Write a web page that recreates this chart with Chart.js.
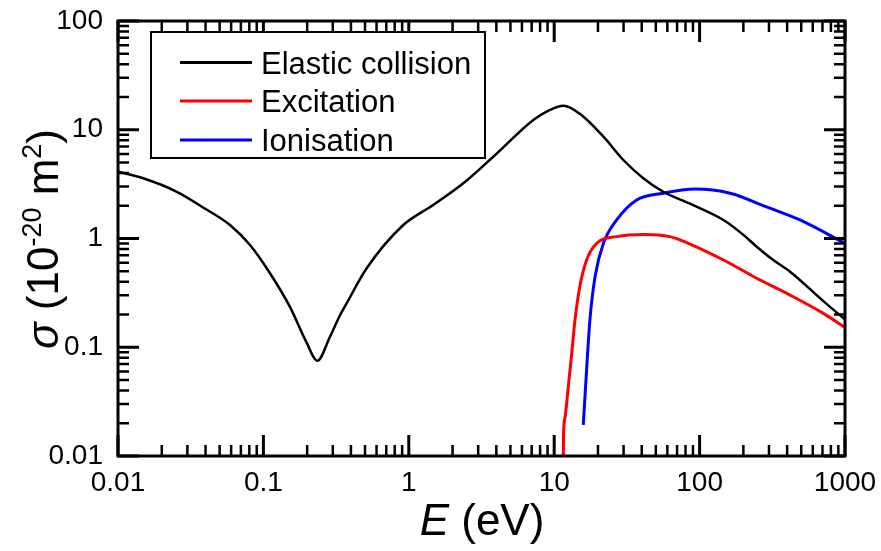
<!DOCTYPE html>
<html>
<head>
<meta charset="utf-8">
<script src="https://cdn.jsdelivr.net/npm/chart.js@4.4.1/dist/chart.umd.min.js"></script>
<style>
  body { margin: 0; background: #fff; }
  canvas { display: block; }
</style>
</head>
<body>
<canvas id="chart" width="881" height="551"></canvas>
<script>
// data (energy in eV, cross section in 1e-20 m^2)
const elasticE = [0.01, 0.0149, 0.0254, 0.0387, 0.0589, 0.0809, 0.111, 0.152, 0.199, 0.235, 0.287, 0.337, 0.374, 0.513, 0.916, 1.47, 2.37, 3.81, 7.18, 8.87, 11.6, 15.0, 21.8, 29.9, 41.0, 56.2, 85.8, 146, 200, 247, 321, 419, 700, 1000];
const elasticSigma = [4.11, 3.58, 2.69, 1.92, 1.33, 0.871, 0.479, 0.236, 0.109, 0.0752, 0.125, 0.198, 0.254, 0.532, 1.33, 2.03, 3.22, 5.65, 12.3, 14.7, 16.6, 14.0, 8.63, 5.27, 3.58, 2.69, 2.09, 1.48, 1.08, 0.841, 0.634, 0.495, 0.27, 0.18];

const excitE = [11.55, 11.6, 11.9, 12.5, 13.2, 13.9, 15.0, 16.7, 19.6, 26.9, 41.0, 62.5, 85.9, 146, 247, 419, 710, 1000];
const excitSigma = [0.01, 0.016, 0.023, 0.0434, 0.0879, 0.178, 0.360, 0.634, 0.903, 1.04, 1.09, 1.04, 0.889, 0.634, 0.431, 0.302, 0.205, 0.152];

const ionE = [15.85, 16.7, 17.6, 19.1, 21.8, 26.9, 36.9, 56.2, 93, 162, 289, 490, 1000];
const ionSigma = [0.0193, 0.0618, 0.178, 0.446, 0.903, 1.48, 2.26, 2.61, 2.85, 2.61, 1.95, 1.48, 0.9];

const seriesNames = ['Elastic collision', 'Excitation', 'Ionisation'];
const seriesColors = ['#000000', '#ff0000', '#0000ff'];

const xTicks = [0.01, 0.1, 1, 10, 100, 1000];
const xTickLabels = ['0.01', '0.1', '1', '10', '100', '1000'];
const yTicks = [0.01, 0.1, 1, 10, 100];
const yTickLabels = ['0.01', '0.1', '1', '10', '100'];

function pts(xs, ys) {
  return xs.map((x, i) => ({ x: x, y: ys[i] }));
}

const FONT = 'Arial, "Liberation Sans", sans-serif';

// frame, inward ticks, legend and axis titles
const decorPlugin = {
  id: 'decor',
  afterDatasetsDraw(chart) {
    const ctx = chart.ctx;
    const a = chart.chartArea;
    const xs = chart.scales.x, ys = chart.scales.y;
    ctx.save();
    ctx.strokeStyle = '#000';
    ctx.lineCap = 'butt';

    // minor ticks
    ctx.lineWidth = 2.5;
    ctx.beginPath();
    for (let d = -2; d < 3; d++) {
      for (let m = 2; m <= 9; m++) {
        const px = xs.getPixelForValue(m * Math.pow(10, d));
        ctx.moveTo(px, a.bottom); ctx.lineTo(px, a.bottom - 11);
        ctx.moveTo(px, a.top); ctx.lineTo(px, a.top + 11);
      }
    }
    for (let d = -2; d < 2; d++) {
      for (let m = 2; m <= 9; m++) {
        const py = ys.getPixelForValue(m * Math.pow(10, d));
        ctx.moveTo(a.left, py); ctx.lineTo(a.left + 11, py);
        ctx.moveTo(a.right, py); ctx.lineTo(a.right - 11, py);
      }
    }
    ctx.stroke();

    // major ticks
    ctx.lineWidth = 3;
    ctx.beginPath();
    xTicks.forEach(v => {
      const px = xs.getPixelForValue(v);
      ctx.moveTo(px, a.bottom); ctx.lineTo(px, a.bottom - 21);
      ctx.moveTo(px, a.top); ctx.lineTo(px, a.top + 21);
    });
    yTicks.forEach(v => {
      const py = ys.getPixelForValue(v);
      ctx.moveTo(a.left, py); ctx.lineTo(a.left + 21, py);
      ctx.moveTo(a.right, py); ctx.lineTo(a.right - 21, py);
    });
    ctx.stroke();

    // frame
    ctx.lineWidth = 3;
    ctx.strokeRect(a.left, a.top, a.right - a.left, a.bottom - a.top);

    // legend
    ctx.fillStyle = '#fff';
    ctx.fillRect(151, 32, 334, 126);
    ctx.lineWidth = 2;
    ctx.strokeRect(151, 32, 334, 126);
    const rows = [62.5, 101, 140];
    ctx.font = '31px ' + FONT;
    ctx.textBaseline = 'alphabetic';
    ctx.textAlign = 'left';
    chart.data.datasets.forEach((ds, i) => {
      ctx.strokeStyle = ds.borderColor;
      ctx.lineWidth = 3;
      ctx.beginPath();
      ctx.moveTo(180, rows[i]); ctx.lineTo(252, rows[i]);
      ctx.stroke();
      ctx.fillStyle = '#000';
      ctx.fillText(ds.label, 261, rows[i] + 11);
    });

    // x title: E (eV)
    ctx.fillStyle = '#000';
    const big = 44;
    ctx.font = 'italic ' + big + 'px ' + FONT;
    const wE = ctx.measureText('E').width;
    ctx.font = big + 'px ' + FONT;
    const wRest = ctx.measureText(' (eV)').width;
    let x0 = 482 - (wE + wRest) / 2;
    ctx.font = 'italic ' + big + 'px ' + FONT;
    ctx.fillText('E', x0, 535);
    ctx.font = big + 'px ' + FONT;
    ctx.fillText(' (eV)', x0 + wE, 535);

    // y title: sigma (10^-20 m^2)
    const sup = Math.round(big * 0.62);
    const parts = [
      { t: '\u03c3', f: 'italic ' + big + 'px ' + FONT, dy: 0 },
      { t: ' (10', f: big + 'px ' + FONT, dy: 0 },
      { t: '-20', f: sup + 'px ' + FONT, dy: -17 },
      { t: ' m', f: big + 'px ' + FONT, dy: 0 },
      { t: '2', f: sup + 'px ' + FONT, dy: -17 },
      { t: ')', f: big + 'px ' + FONT, dy: 0 }
    ];
    let total = 0;
    parts.forEach(p => { ctx.font = p.f; p.w = ctx.measureText(p.t).width; total += p.w; });
    ctx.translate(58, 239);
    ctx.rotate(-Math.PI / 2);
    let cx = -total / 2;
    parts.forEach(p => {
      ctx.font = p.f;
      ctx.fillText(p.t, cx, p.dy);
      cx += p.w;
    });
    ctx.restore();
  }
};

const ctx = document.getElementById('chart').getContext('2d');
new Chart(ctx, {
  type: 'scatter',
  data: {
    datasets: [
      { label: seriesNames[0], data: pts(elasticE, elasticSigma), borderColor: seriesColors[0], borderWidth: 2.5 },
      { label: seriesNames[1], data: pts(excitE, excitSigma), borderColor: seriesColors[1], borderWidth: 3 },
      { label: seriesNames[2], data: pts(ionE, ionSigma), borderColor: seriesColors[2], borderWidth: 3 }
    ].map(d => Object.assign(d, {
      showLine: true, pointRadius: 0, fill: false,
      cubicInterpolationMode: 'monotone', backgroundColor: d.borderColor
    }))
  },
  options: {
    responsive: false,
    animation: false,
    layout: { padding: { top: 21, right: 36, left: 0, bottom: 0 } },
    plugins: { legend: { display: false }, tooltip: { enabled: false } },
    scales: {
      x: {
        type: 'logarithmic', min: 0.01, max: 1000,
        grid: { display: false },
        border: { display: false },
        afterBuildTicks: s => { s.ticks = xTicks.map(v => ({ value: v })); },
        afterFit: s => { s.height = 95; s.paddingLeft = 0; s.paddingRight = 0; },
        ticks: {
          autoSkip: false, maxRotation: 0, padding: 2, color: '#000',
          font: { family: FONT, size: 28 },
          callback: (v) => xTickLabels[xTicks.indexOf(v)]
        }
      },
      y: {
        type: 'logarithmic', min: 0.01, max: 100,
        grid: { display: false },
        border: { display: false },
        afterBuildTicks: s => { s.ticks = yTicks.map(v => ({ value: v })); },
        afterFit: s => { s.width = 118; s.paddingTop = 0; s.paddingBottom = 0; },
        ticks: {
          autoSkip: false, padding: 7, color: '#000',
          font: { family: FONT, size: 28 },
          callback: (v) => yTickLabels[yTicks.indexOf(v)]
        }
      }
    }
  },
  plugins: [decorPlugin]
});
</script>
</body>
</html>
